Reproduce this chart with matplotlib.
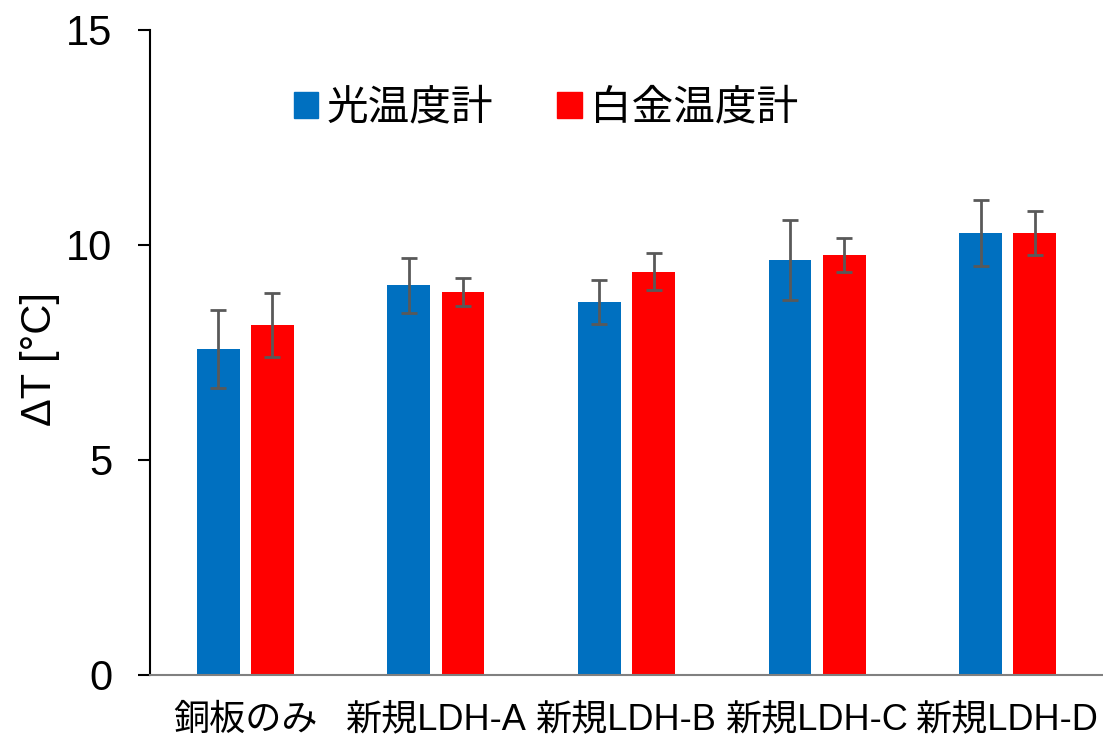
import numpy as np
import matplotlib.pyplot as plt
from matplotlib.patches import Rectangle

plt.rcParams['font.family'] = ['Liberation Sans', 'Noto Sans CJK JP']

categories = ["銅板のみ", "新規LDH-A", "新規LDH-B", "新規LDH-C", "新規LDH-D"]
optical = [7.57, 9.06, 8.66, 9.64, 10.27]
optical_err = [0.91, 0.64, 0.51, 0.93, 0.76]
platinum = [8.13, 8.90, 9.37, 9.76, 10.27]
platinum_err = [0.74, 0.33, 0.43, 0.40, 0.52]
series_names = ["光温度計", "白金温度計"]

blue = "#0070C0"
red = "#FF0000"

fig = plt.figure(figsize=(11.03, 7.4), dpi=100)
ax = fig.add_axes([0.136, 0.088, 0.864, 0.872])

x = np.arange(len(categories))
w = 0.225
err_kw = dict(ecolor="#595959", elinewidth=2, capsize=6, capthick=2)
ax.bar(x - 0.142, optical, w, color=blue, yerr=optical_err, error_kw=err_kw)
ax.bar(x + 0.142, platinum, w, color=red, yerr=platinum_err, error_kw=err_kw)

ax.set_xlim(-0.5, 4.5)
ax.set_ylim(0, 15)
ax.set_yticks([0, 5, 10, 15])
ax.set_xticks(x)
ax.set_xticklabels(categories, fontsize=26)
ax.tick_params(axis='x', length=0, pad=20)
ax.tick_params(axis='y', labelsize=30, length=9, width=1.5, pad=18)

ax.spines['top'].set_visible(False)
ax.spines['right'].set_visible(False)
ax.spines['left'].set_linewidth(1.5)
ax.spines['bottom'].set_color("#808080")
ax.spines['bottom'].set_linewidth(1.5)

ax.set_ylabel("ΔT [°C]", fontsize=30, va='center')
ax.yaxis.set_label_coords(-0.115, 0.49)

handles = [Rectangle((0, 0), 1, 1, color=blue), Rectangle((0, 0), 1, 1, color=red)]
ax.legend(handles, series_names, loc='center', bbox_to_anchor=(0.4155, 0.878),
          ncol=2, frameon=False, fontsize=30, handlelength=0.58, handleheight=0.58,
          handletextpad=0.2, columnspacing=1.55)

fig.savefig("out.png", dpi=100)
